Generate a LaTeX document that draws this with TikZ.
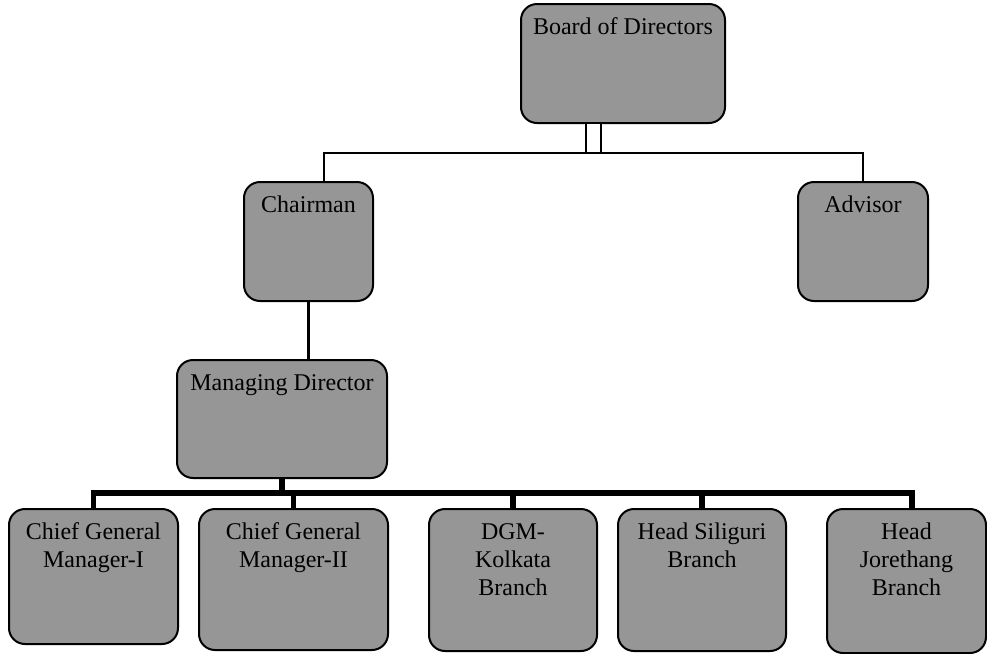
\documentclass[tikz,border=0pt]{standalone}
\usepackage{fontspec}
\setmainfont{Liberation Serif}
\definecolor{boxgray}{RGB}{150,150,150}
\newcommand{\boxtext}[3]{\parbox[c][#2][t]{#1}{\centering\rule{0pt}{15pt}#3}}

\begin{document}
\begin{tikzpicture}[x=0.5pt,y=-0.5pt,
        orgbox/.style={draw,fill=boxgray,line width=1pt,rounded corners=8pt,inner sep=0pt,
                       font=\fontsize{12}{14}\selectfont},
        thinline/.style={line width=1.15pt},
        busline/.style={line width=2.6pt}]
    \useasboundingbox (0,0) rectangle (987,654);

    \node[orgbox] (board)     at (623,63.5)    {\boxtext{102pt}{59.5pt}{Board of Directors}};
    \node[orgbox] (chair)     at (308.5,241.5) {\boxtext{64.5pt}{59.5pt}{Chairman}};
    \node[orgbox] (advisor)   at (863,241.5)   {\boxtext{65pt}{59.5pt}{Advisor}};
    \node[orgbox] (md)        at (282,419)     {\boxtext{105pt}{59pt}{Managing Director}};
    \node[orgbox] (cgm1)      at (93.5,576.5)  {\boxtext{84.5pt}{67.5pt}{Chief General\\Manager-I}};
    \node[orgbox] (cgm2)      at (293.5,579.5) {\boxtext{94.5pt}{70.5pt}{Chief General\\Manager-II}};
    \node[orgbox] (dgm)       at (513,580)     {\boxtext{84pt}{71pt}{DGM-\\Kolkata\\Branch}};
    \node[orgbox] (siliguri)  at (702,580)     {\boxtext{84pt}{71pt}{Head Siliguri\\Branch}};
    \node[orgbox] (jorethang) at (906.5,581)   {\boxtext{79.5pt}{72pt}{Head\\Jorethang\\Branch}};

    \coordinate (split) at (593.5,153);
    \coordinate (left)  at (324,153);
    \coordinate (bus)   at (282,493);
    \coordinate (jdrop) at (912,509);

    % top level
    \draw[thinline,double,double distance=6.3pt] (board.south -| split) -- (split);
    \draw[thinline] (chair.north -| left) |- (advisor.north |- left) -- (advisor.north);
    \draw[thinline] (chair.south) -- (chair.south |- md.north);

    % branches
    \draw[busline] (md.south) -- (bus);
    \draw[busline] (cgm1.north) |- (bus) -- (bus -| jdrop) -- (jdrop);
    \foreach \n in {cgm2,dgm,siliguri}
        \draw[busline] (\n.north) -- (\n.north |- bus);
\end{tikzpicture}
\end{document}
